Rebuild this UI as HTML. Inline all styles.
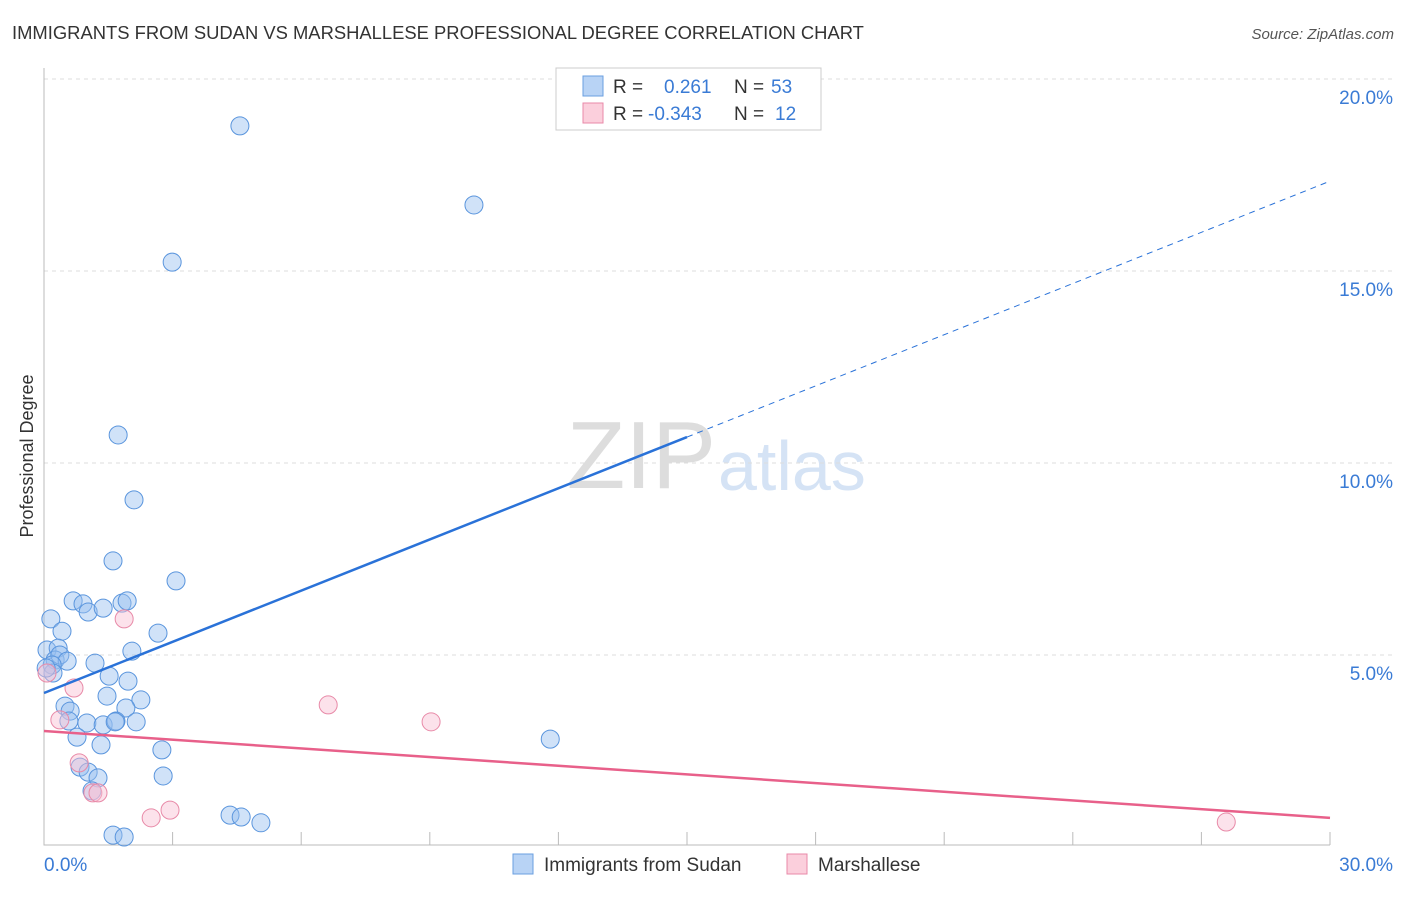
<!DOCTYPE html>
<html><head><meta charset="utf-8"><style>
body{margin:0;background:#fff;font-family:"Liberation Sans",sans-serif;}
svg text{font-family:"Liberation Sans",sans-serif;}
</style></head><body>
<svg id="c" width="1406" height="892">
<text x="12" y="39" font-size="18.4" fill="#333">IMMIGRANTS FROM SUDAN VS MARSHALLESE PROFESSIONAL DEGREE CORRELATION CHART</text>
<text x="1394" y="39" font-size="15" fill="#555" font-style="italic" text-anchor="end">Source: ZipAtlas.com</text>
<text x="33" y="456" font-size="18" fill="#333" text-anchor="middle" transform="rotate(-90 33 456)">Professional Degree</text>
<text x="716" y="488" font-size="96" fill="#ddd" text-anchor="end" font-family="Liberation Serif">ZIP</text>
<text x="718" y="490" font-size="70" fill="#d5e3f5">atlas</text>
<g id="grid"></g><g id="marks"></g>
<rect x="556" y="68" width="265" height="62" fill="#fff" stroke="#ccc"/>
<rect x="583" y="76" width="20" height="20" fill="#b8d3f5" stroke="#6a9fe0"/>
<rect x="583" y="103" width="20" height="20" fill="#fbcfdc" stroke="#e889a8"/>
<text x="613" y="93" font-size="19" fill="#333">R = <tspan fill="#3a7bd5" x="664">0.261</tspan><tspan fill="#333" x="734">N =</tspan><tspan fill="#3a7bd5" x="771">53</tspan></text>
<text x="613" y="120" font-size="19" fill="#333">R = <tspan fill="#3a7bd5" x="648">-0.343</tspan><tspan fill="#333" x="734">N =</tspan><tspan fill="#3a7bd5" x="775">12</tspan></text>
<rect x="513" y="854" width="20" height="20" fill="#b8d3f5" stroke="#6a9fe0"/>
<text x="544" y="871" font-size="19" fill="#333">Immigrants from Sudan</text>
<rect x="787" y="854" width="20" height="20" fill="#fbcfdc" stroke="#e889a8"/>
<text x="818" y="871" font-size="19" fill="#333">Marshallese</text>
</svg>
<script>
const sudanX=[4.57,10.03,2.99,1.73,2.10,1.61,3.08,0.16,0.68,0.91,1.03,1.38,1.82,1.94,0.42,2.66,2.05,0.07,0.33,0.26,0.37,0.54,0.19,1.19,1.52,1.96,1.47,2.26,0.49,0.61,1.91,0.58,1.00,1.38,1.68,2.15,0.77,1.33,2.75,11.81,0.84,1.03,1.26,2.78,1.12,4.34,4.60,5.06,1.61,1.87,0.21,0.05,1.66];
const sudanY=[18.78,16.72,15.23,10.73,9.04,7.45,6.93,5.94,6.41,6.33,6.12,6.22,6.35,6.41,5.62,5.57,5.10,5.13,5.18,4.87,5.00,4.84,4.74,4.79,4.45,4.32,3.93,3.83,3.67,3.54,3.62,3.28,3.23,3.18,3.28,3.26,2.86,2.66,2.53,2.81,2.08,1.95,1.80,1.85,1.46,0.83,0.78,0.63,0.31,0.26,4.53,4.66,3.26];
const marshX=[0.07,0.70,1.87,0.37,6.63,9.03,0.82,1.14,1.26,2.50,2.94,27.58];
const marshY=[4.53,4.14,5.94,3.31,3.70,3.26,2.19,1.41,1.41,0.76,0.96,0.65];
const sudanTrend=[4.01,17.34];
const marshTrend=[3.02,0.76];
const yTicks=[5,10,15,20];
const yTickLabels=["5.0%","10.0%","15.0%","20.0%"];
const xTicks=[0,3,6,9,12,15,18,21,24,27,30];
const xEndLabels=["0.0%","30.0%"];
const NS="http://www.w3.org/2000/svg";
const sx=v=>44+v*1286/30, sy=v=>847-v*38.4;
function mk(p,t,a){const e=document.createElementNS(NS,t);for(const k in a)e.setAttribute(k,a[k]);p.appendChild(e);return e;}
const g=document.getElementById('grid'), m=document.getElementById('marks');
yTicks.forEach((v,i)=>{
 const l=mk(g,'line',{x1:44,x2:1393,y1:sy(v),y2:sy(v),stroke:'#ddd','stroke-dasharray':'4,4'});
 
 
 const t=mk(g,'text',{x:1393,y:sy(v)+25,'font-size':19,fill:'#3a7bd5','text-anchor':'end'});
 t.textContent=yTickLabels[i];
 
 
});
const ax=mk(g,'path',{d:'M44 68 V845 H1330',fill:'none',stroke:'#bbb'});


xTicks.forEach(v=>{
 const l=mk(g,'line',{x1:sx(v),x2:sx(v),y1:832,y2:845,stroke:'#bbb'});
 
 
});
[[0,'start',44],[1,'end',1393]].forEach(([i,a,x])=>{
 const t=mk(g,'text',{x:x,y:871,'font-size':19,fill:'#3a7bd5','text-anchor':a});
 t.textContent=xEndLabels[i];
 
 
});
sudanX.forEach((x,i)=>{
 const c=mk(m,'circle',{cx:sx(x),cy:sy(sudanY[i]),r:9,fill:'rgba(150,190,240,0.45)',stroke:'#5a95dd','stroke-width':1});
 
 
});
marshX.forEach((x,i)=>{
 const c=mk(m,'circle',{cx:sx(x),cy:sy(marshY[i]),r:9,fill:'rgba(248,190,210,0.45)',stroke:'#e88aa8','stroke-width':1});
 
 
});
const yb=x=>sudanTrend[0]+(sudanTrend[1]-sudanTrend[0])*x/30;
let t1=mk(m,'line',{x1:sx(0),y1:sy(yb(0)),x2:sx(15),y2:sy(yb(15)),stroke:'#2a72d8','stroke-width':2.5});


let t2=mk(m,'line',{x1:sx(15),y1:sy(yb(15)),x2:sx(30),y2:sy(yb(30)),stroke:'#2a72d8','stroke-width':1,'stroke-dasharray':'6,5'});


let t3=mk(m,'line',{x1:sx(0),y1:sy(marshTrend[0]),x2:sx(30),y2:sy(marshTrend[1]),stroke:'#e8608a','stroke-width':2.5});


</script>
</body></html>
